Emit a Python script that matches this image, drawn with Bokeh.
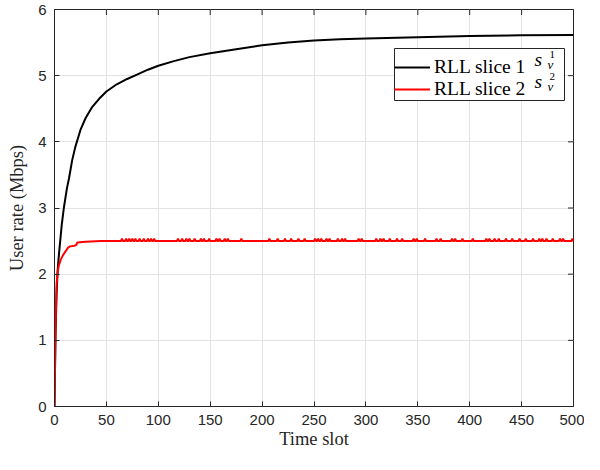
from bokeh.plotting import figure
from bokeh.models import (Legend, LegendItem, Label, Range1d, BoxAnnotation)
from bokeh.embed import file_html
from bokeh.resources import INLINE

# ---------------- data ----------------
x_ticks = [0, 50, 100, 150, 200, 250, 300, 350, 400, 450, 500]
y_ticks = [0, 1, 2, 3, 4, 5, 6]
x_limits = (0, 500)
y_limits = (0, 6)

black_t = [0, 1, 2, 3, 4, 5, 7, 9, 12, 14, 17, 20, 25, 30, 36, 43, 50, 60, 70, 80,
           90, 100, 115, 130, 150, 175, 200, 225, 250, 275, 300, 350, 400, 450, 500]
black_v = [0, 1.1, 1.7, 2.05, 2.25, 2.42, 2.75, 3.0, 3.3, 3.45, 3.72, 3.92, 4.18, 4.36,
           4.52, 4.65, 4.76, 4.87, 4.95, 5.02, 5.09, 5.15, 5.22, 5.28, 5.34, 5.4, 5.46,
           5.5, 5.53, 5.55, 5.56, 5.58, 5.6, 5.61, 5.615]

red_t = [0, 1, 2, 3, 4, 6, 8, 10, 13, 15, 19, 21, 22, 30, 45, 500]
red_v = [0, 1.2, 1.85, 2.02, 2.12, 2.22, 2.28, 2.33, 2.4, 2.42, 2.43, 2.44, 2.48,
         2.49, 2.5, 2.5]
red_level = 2.5
spike_t = [65, 69, 72, 75, 78, 82, 86, 90, 93, 96, 119, 123, 127, 130, 135, 141, 144,
           149, 156, 159, 164, 167, 180, 207, 215, 222, 228, 235, 241, 251, 254, 257,
           262, 265, 273, 277, 280, 293, 296, 310, 314, 317, 323, 330, 335, 346, 349,
           357, 368, 372, 383, 386, 393, 403, 416, 419, 424, 428, 435, 441, 448, 454,
           461, 467, 470, 474, 480, 487, 490, 499]
spike_v = [2.538] * len(spike_t)

series_labels = ["RLL slice 1", "RLL slice 2"]
series_sup = ["1", "2"]

# build red series: base points + spikes (each spike rises from and returns to the level)
pts = {}
for t, v in zip(red_t, red_v):
    pts[t] = v
for t, v in zip(spike_t, spike_v):
    for dt in (-1, 1):
        if (t + dt) not in pts:
            pts[t + dt] = red_level
    pts[t] = v
red_all_t = sorted(pts)
red_all_v = [pts[t] for t in red_all_t]

# ---------------- figure ----------------
AX = "#262626"
p = figure(width=584, height=454, output_backend="svg", toolbar_location=None,
           x_range=Range1d(*x_limits), y_range=Range1d(*y_limits),
           min_border_left=54, min_border_right=11, min_border_top=9, min_border_bottom=48)
p.background_fill_color = "white"
p.border_fill_color = "white"
p.outline_line_color = AX
p.outline_line_width = 1

for ax in (p.xaxis[0], p.yaxis[0]):
    ax.major_tick_in = 5
    ax.major_tick_out = 0
    ax.minor_tick_in = 0
    ax.minor_tick_out = 0
    ax.axis_line_color = AX
    ax.major_tick_line_color = AX
    ax.major_label_text_font = "Liberation Sans"
    ax.major_label_text_font_size = "15px"
    ax.major_label_text_color = AX
    ax.axis_label_text_font = "Liberation Serif"
    ax.axis_label_text_font_size = "18.5px"
    ax.axis_label_text_font_style = "normal"
    ax.axis_label_text_color = AX

p.xaxis[0].ticker = x_ticks
p.yaxis[0].ticker = y_ticks
p.xaxis[0].axis_label = "Time slot"
p.yaxis[0].axis_label = "User rate (Mbps)"
p.xaxis[0].major_label_standoff = 8
p.yaxis[0].major_label_standoff = 8
p.xaxis[0].axis_label_standoff = 1
p.yaxis[0].axis_label_standoff = 8

p.xgrid.ticker = x_ticks
p.ygrid.ticker = y_ticks
p.xgrid.grid_line_color = "#e3e3e3"
p.ygrid.grid_line_color = "#e3e3e3"
p.xgrid.grid_line_width = 1
p.ygrid.grid_line_width = 1

# mirrored inward ticks on top and right edges (clipped to frame -> half length shows)
p.scatter(x_ticks, [y_limits[1]] * len(x_ticks), marker="dash", size=11, angle=1.5708,
          line_color=AX, line_width=1)
p.scatter([x_limits[1]] * len(y_ticks), y_ticks, marker="dash", size=11,
          line_color=AX, line_width=1)

# legend box (screen units relative to the frame's bottom-left corner)
LEG_L, LEG_B, LEG_W, LEG_H = 340, 306, 170, 52
p.add_layout(BoxAnnotation(left=LEG_L, right=LEG_L + LEG_W, bottom=LEG_B, top=LEG_B + LEG_H,
                           left_units="screen", right_units="screen",
                           bottom_units="screen", top_units="screen",
                           fill_color="white", fill_alpha=1, line_color=AX, line_width=1,
                           line_alpha=1, level="underlay", editable=False))

r1 = p.line(black_t, black_v, line_color="black", line_width=2)
r2 = p.line(red_all_t, red_all_v, line_color="#ff0000", line_width=2)

legend = Legend(items=[LegendItem(label=series_labels[0], renderers=[r1]),
                       LegendItem(label=series_labels[1], renderers=[r2])],
                location=(LEG_L, LEG_B), orientation="vertical")
legend.label_text_font = "Liberation Serif"
legend.label_text_font_size = "19.5px"
legend.label_text_color = "black"
legend.glyph_width = 36
legend.glyph_height = 22
legend.label_height = 22
legend.label_width = 120
legend.label_standoff = 4
legend.spacing = 0
legend.padding = 4
legend.margin = 0
legend.border_line_color = None
legend.background_fill_alpha = 0
p.add_layout(legend)

# math parts s_v^k next to labels (screen units, relative to frame bottom-left)
row_y = [LEG_B + 41, LEG_B + 19]
for i in range(2):
    y = row_y[i]
    p.add_layout(Label(x=LEG_L + 140, y=y, x_units="screen", y_units="screen", text="s",
                       text_font="Liberation Serif", text_font_style="italic",
                       text_font_size="19.5px", text_baseline="middle", text_color="black"))
    p.add_layout(Label(x=LEG_L + 153, y=y - 5, x_units="screen", y_units="screen", text="v",
                       text_font="Liberation Serif", text_font_style="italic",
                       text_font_size="13px", text_baseline="middle", text_color="black"))
    p.add_layout(Label(x=LEG_L + 155, y=y + 5.5, x_units="screen", y_units="screen",
                       text=series_sup[i], text_font="Liberation Serif",
                       text_font_size="11px", text_baseline="middle", text_color="black"))

open("out.html", "w").write(file_html(p, INLINE))
